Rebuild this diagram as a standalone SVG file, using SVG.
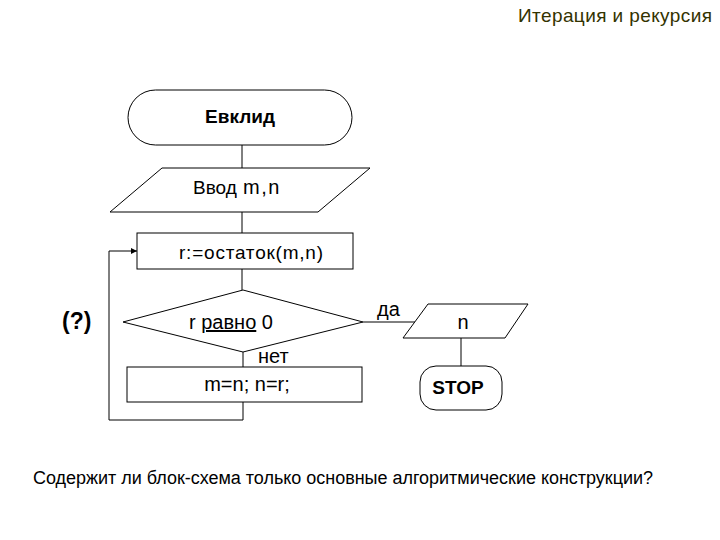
<svg xmlns="http://www.w3.org/2000/svg" width="720" height="540" viewBox="0 0 720 540">
<defs>
<style>
.s{fill:#fff;stroke:#000;stroke-width:1}
.c{fill:none;stroke:#000;stroke-width:1}
.t{font-family:"Liberation Sans",Arial,sans-serif;fill:#000}
.b{font-weight:bold}
</style>
<marker id="ah" viewBox="0 0 10 10" refX="10" refY="5" markerWidth="8" markerHeight="6" orient="auto" markerUnits="userSpaceOnUse">
<path d="M0,0 L10,5 L0,10 z" fill="#000"/>
</marker>
</defs>
<rect width="720" height="540" fill="#fff"/>
<text class="t" x="712" y="22" font-size="19" text-anchor="end" style="fill:#333300" textLength="194">Итерация и рекурсия</text>
<g id="connectors">
<path class="c" d="M242,145 V168"/>
<path class="c" d="M242,212 V233"/>
<path class="c" d="M242,269 V290"/>
<path class="c" d="M243,352 V367"/>
<path class="c" d="M363,322 H415"/>
<path class="c" d="M461,338 V366"/>
<path class="c" d="M243,402 V420 H109 V251 H137" marker-end="url(#ah)"/>
</g>
<g id="start">
<rect class="s" x="128" y="90" width="224" height="55" rx="27.5"/>
<text class="t b" x="240" y="123" font-size="19" text-anchor="middle">Евклид</text>
</g>
<g id="input">
<polygon class="s" points="162,168 370,168 318,212 110,212"/>
<text class="t" x="193" y="194" font-size="19">Ввод <tspan x="243" font-size="20" letter-spacing="1.5">m,n</tspan></text>
</g>
<g id="calc">
<rect class="s" x="137" y="233" width="216" height="36"/>
<text class="t" x="251" y="259" font-size="19" text-anchor="middle" textLength="144">r:=остаток(m,n)</text>
</g>
<g id="decision">
<polygon class="s" points="243,290 363,322 243,352 123,322"/>
<text class="t" x="231" y="329" font-size="20" text-anchor="middle">r <tspan text-decoration="underline">равно</tspan> 0</text>
</g>
<g id="assign">
<rect class="s" x="127" y="367" width="235" height="35"/>
<text class="t" x="247" y="391" font-size="20" text-anchor="middle">m=n; n=r;</text>
</g>
<g id="output">
<polygon class="s" points="428,304 528,304 505,338 403,338"/>
<text class="t" x="463" y="329" font-size="20" text-anchor="middle">n</text>
</g>
<g id="stop">
<rect class="s" x="420" y="366" width="82" height="44" rx="16"/>
<text class="t b" x="458" y="394" font-size="19" text-anchor="middle">STOP</text>
</g>
<text class="t" x="377" y="316" font-size="20">да</text>
<text class="t" x="258" y="363" font-size="20">нет</text>
<text class="t b" x="62" y="329" font-size="23">(?)</text>
<text class="t" x="33" y="484" font-size="18" textLength="620">Содержит ли блок-схема только основные алгоритмические конструкции?</text>
</svg>
